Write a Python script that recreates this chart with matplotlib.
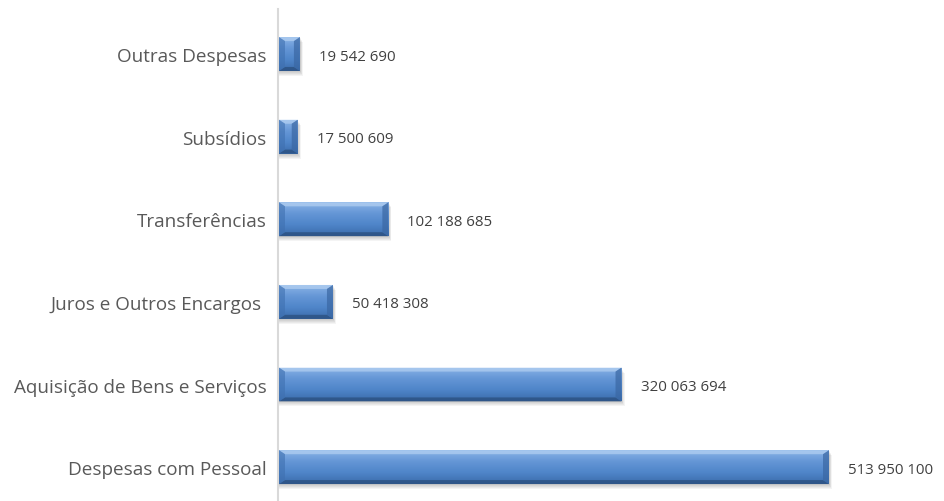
import numpy as np
import matplotlib
matplotlib.use("Agg")
from matplotlib import pyplot as plt
from matplotlib.patches import Polygon, Rectangle
from matplotlib.colors import LinearSegmentedColormap

# data (bottom to top)
categories = ["Despesas com Pessoal", "Aquisição de Bens e Serviços",
              "Juros e Outros Encargos ", "Transferências", "Subsídios",
              "Outras Despesas"]
values = [513950100, 320063694, 50418308, 102188685, 17500609, 19542690]
value_labels = ["513 950 100", "320 063 694", "50 418 308", "102 188 685",
                "17 500 609", "19 542 690"]

plt.rcParams['font.family'] = ['Open Sans', 'DejaVu Sans']
W, H, DPI = 944, 502, 100
fig = plt.figure(figsize=(W / DPI, H / DPI), dpi=DPI)
ax_left, ax_right, ax_top, ax_bot = 279, 944, 10, 502
ax = fig.add_axes([ax_left / W, 1 - ax_bot / H, (ax_right - ax_left) / W,
                   (ax_bot - ax_top) / H])

px_per_unit_x = 550 / values[0]
xmax = (ax_right - ax_left) / px_per_unit_x
ax.set_xlim(0, xmax)
ax.set_ylim(-0.41, 5.545)
px_per_unit_y = (ax_bot - ax_top) / (5.545 + 0.41)

bar_h = 0.41
y = np.arange(len(categories))
bars = ax.barh(y, values, height=bar_h, color="#4a7ec0", zorder=3,
               edgecolor="none")

grad = np.linspace(0, 1, 64).reshape(-1, 1)
cmap = LinearSegmentedColormap.from_list(
    "bev", ["#3b6cab", "#4f85c9", "#6496d6", "#8ab3e6"])

bx = 6 / px_per_unit_x
by = 4 / px_per_unit_y
for yi, v, rect in zip(y, values, bars):
    y0, y1 = yi - bar_h / 2, yi + bar_h / 2
    # shadow
    for k in range(1, 6):
        ax.add_patch(Rectangle((0, y0 - k * 1.0 / px_per_unit_y),
                               v + k * 0.6 / px_per_unit_x, bar_h,
                               color="black", alpha=0.045, zorder=2, lw=0))
    im = ax.imshow(grad, extent=(0, v, y0, y1), aspect="auto", cmap=cmap,
                   origin="lower", zorder=4, interpolation="bilinear")
    im.set_clip_path(rect)
    bxx = min(bx, v / 2)
    # top bevel (light)
    ax.add_patch(Polygon([(0, y1), (v, y1), (v - bxx, y1 - by), (bxx, y1 - by)],
                         closed=True, color="#b3d0f2", alpha=0.7, lw=0, zorder=5))
    # bottom bevel (dark)
    ax.add_patch(Polygon([(0, y0), (v, y0), (v - bxx, y0 + by), (bxx, y0 + by)],
                         closed=True, color="#2b4f7e", alpha=0.75, lw=0, zorder=5))
    # right bevel
    ax.add_patch(Polygon([(v, y0), (v, y1), (v - bxx, y1 - by), (v - bxx, y0 + by)],
                         closed=True, color="#3a67a3", alpha=0.7, lw=0, zorder=5))
    # left bevel
    ax.add_patch(Polygon([(0, y0), (0, y1), (bxx, y1 - by), (bxx, y0 + by)],
                         closed=True, color="#3f70b0", alpha=0.6, lw=0, zorder=5))

for yi, v, lab in zip(y, values, value_labels):
    ax.annotate(lab, (v, yi), xytext=(19, -2), textcoords="offset pixels",
                va="center", ha="left", fontsize=10.8, color="#404040")

ax.tick_params(axis="y", length=0, pad=8, labelsize=13.6, labelcolor="#595959")
ax.set_yticks(y)
ax.set_yticklabels(categories)
ax.set_xticks([])
for s in ["top", "right", "bottom"]:
    ax.spines[s].set_visible(False)
ax.spines["left"].set_color("#d9d9d9")
ax.spines["left"].set_linewidth(1.5)
ax.spines["left"].set_position(("outward", 1))

fig.savefig("out.png", dpi=DPI)
